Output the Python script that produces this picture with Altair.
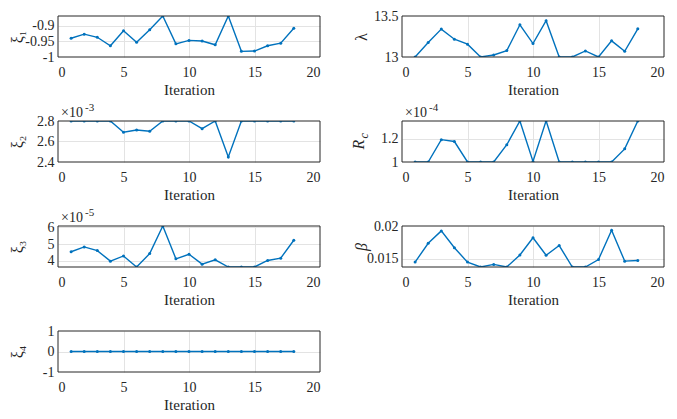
import altair as alt
import pandas as pd

iterations = list(range(1, 19))
x_ticks = [0, 5, 10, 15, 20]

xi1 = [-0.940, -0.927, -0.937, -0.964, -0.916, -0.953, -0.913, -0.869, -0.958,
       -0.947, -0.949, -0.961, -0.869, -0.982, -0.981, -0.964, -0.956, -0.908]
lam = [13.0, 13.176, 13.34, 13.217, 13.156, 13.0, 13.025, 13.078, 13.393,
       13.164, 13.443, 13.0, 13.0, 13.074, 13.0, 13.197, 13.07, 13.344]
xi2 = [2.8, 2.8, 2.8, 2.8, 2.69, 2.712, 2.70, 2.8, 2.8,
       2.8, 2.725, 2.8, 2.45, 2.8, 2.8, 2.8, 2.8, 2.8]          # x 1e-3
rc = [1.0, 1.0, 1.194, 1.178, 1.0, 1.0, 1.0, 1.15, 1.356,
      1.005, 1.358, 1.0, 1.0, 1.0, 1.0, 1.0, 1.114, 1.356]       # x 1e-4
xi3 = [4.54, 4.83, 4.61, 3.98, 4.29, 3.63, 4.43, 6.08, 4.12,
       4.39, 3.80, 4.06, 3.63, 3.63, 3.63, 4.02, 4.16, 5.23]     # x 1e-5
beta = [0.01445, 0.01735, 0.01925, 0.01665, 0.01445, 0.0137, 0.0141, 0.0137, 0.01555,
        0.0182, 0.0155, 0.017, 0.0137, 0.0137, 0.01485, 0.01935, 0.0146, 0.0147]
xi4 = [0] * 18

C = "#0072BD"
FONT = "Liberation Serif"
W, H = 262, 41
INK = "#262626"


def panel(vals, title, domain, ticks, exp=None, italic=False, sub=None):
    df = pd.DataFrame({"Iteration": iterations, "v": vals})
    x = alt.X("Iteration:Q", scale=alt.Scale(domain=[0, 20], nice=False),
              axis=alt.Axis(values=x_ticks, title="Iteration",
                            gridOpacity=alt.condition("datum.value <= 0 || datum.value >= 20",
                                                      alt.value(0), alt.value(1))))
    y = alt.Y("v:Q", scale=alt.Scale(domain=domain, nice=False, zero=False),
              axis=alt.Axis(values=ticks, title=title if sub is None else "",
                            labelExpr="'' + datum.value",
                            titleFontStyle="italic" if italic else "normal",
                            gridOpacity=alt.condition(
                                f"datum.value <= {domain[0]} || datum.value >= {domain[1]}",
                                alt.value(0), alt.value(1))))
    base = alt.Chart(df).encode(x=x, y=y)
    layers = [base.mark_line(color=C, strokeWidth=1.4, clip=True),
              base.mark_circle(color=C, size=9, opacity=1, clip=True)]
    one = pd.DataFrame({"f": [0]})
    layers.append(alt.Chart(one).mark_rect(fillOpacity=0, stroke=INK, strokeWidth=1)
                  .encode(x=alt.value(0), x2=alt.value(W), y=alt.value(0), y2=alt.value(H)))
    if exp is not None:
        tdf = pd.DataFrame({"t": ["\u00d710"], "e": [exp]})
        layers.append(alt.Chart(tdf).mark_text(font=FONT, fontSize=14, align="left",
                                               baseline="bottom", color=INK)
                      .encode(text="t:N", x=alt.value(3), y=alt.value(-1)))
        layers.append(alt.Chart(tdf).mark_text(font=FONT, fontSize=11, align="left",
                                               baseline="bottom", color=INK)
                      .encode(text="e:N", x=alt.value(27), y=alt.value(-8)))
    if sub is not None:
        sdf = pd.DataFrame({"m": [title], "s": [sub]})
        layers.append(alt.Chart(sdf).mark_text(font=FONT, fontSize=16, fontStyle="italic",
                                               align="center", baseline="bottom", angle=270,
                                               color=INK)
                      .encode(text="m:N", x=alt.value(-35), y=alt.value(H / 2 + 3)))
        layers.append(alt.Chart(sdf).mark_text(font=FONT, fontSize=12, fontStyle="italic",
                                               align="left", baseline="bottom", angle=270,
                                               color=INK)
                      .encode(text="s:N", x=alt.value(-31), y=alt.value(H / 2 - 3)))
    return alt.layer(*layers).properties(width=W, height=H)


p1 = panel(xi1, "\u03be\u2081", [-1, -0.869], [-1, -0.95, -0.9])
p2 = panel(lam, "\u03bb", [13, 13.5], [13, 13.5])
p3 = panel(xi2, "\u03be\u2082", [2.4, 2.8], [2.4, 2.6, 2.8], exp="-3")
p4 = panel(rc, "R", [1, 1.356], [1, 1.2], exp="-4", sub="c")
p5 = panel(xi3, "\u03be\u2083", [3.63, 6.08], [4, 5, 6], exp="-5")
p6 = panel(beta, "\u03b2", [0.0137, 0.02], [0.015, 0.02], italic=True)
p7 = panel(xi4, "\u03be\u2084", [-1, 1], [-1, 0, 1])

chart = alt.concat(p1, p2, p3, p4, p5, p6, p7, columns=2,
                   spacing={"row": 64, "column": 82}, bounds="flush").properties(
    padding={"left": 0, "top": 0, "right": 2, "bottom": 0}
).configure_view(
    stroke="transparent"
).configure_axis(
    labelFont=FONT, labelFontSize=14, labelColor=INK,
    titleFont=FONT, titleFontSize=15, titleColor=INK, titleFontWeight="normal",
    grid=True, gridColor="#e3e3e3", gridWidth=1,
    domain=False, ticks=False,
).configure_axisX(
    labelPadding=8, titlePadding=3,
).configure_axisY(
    labelPadding=4, titlePadding=3, minExtent=30, maxExtent=30, titleFontSize=16,
)

chart.save("out.html", embed_options={"renderer": "svg", "actions": False})
